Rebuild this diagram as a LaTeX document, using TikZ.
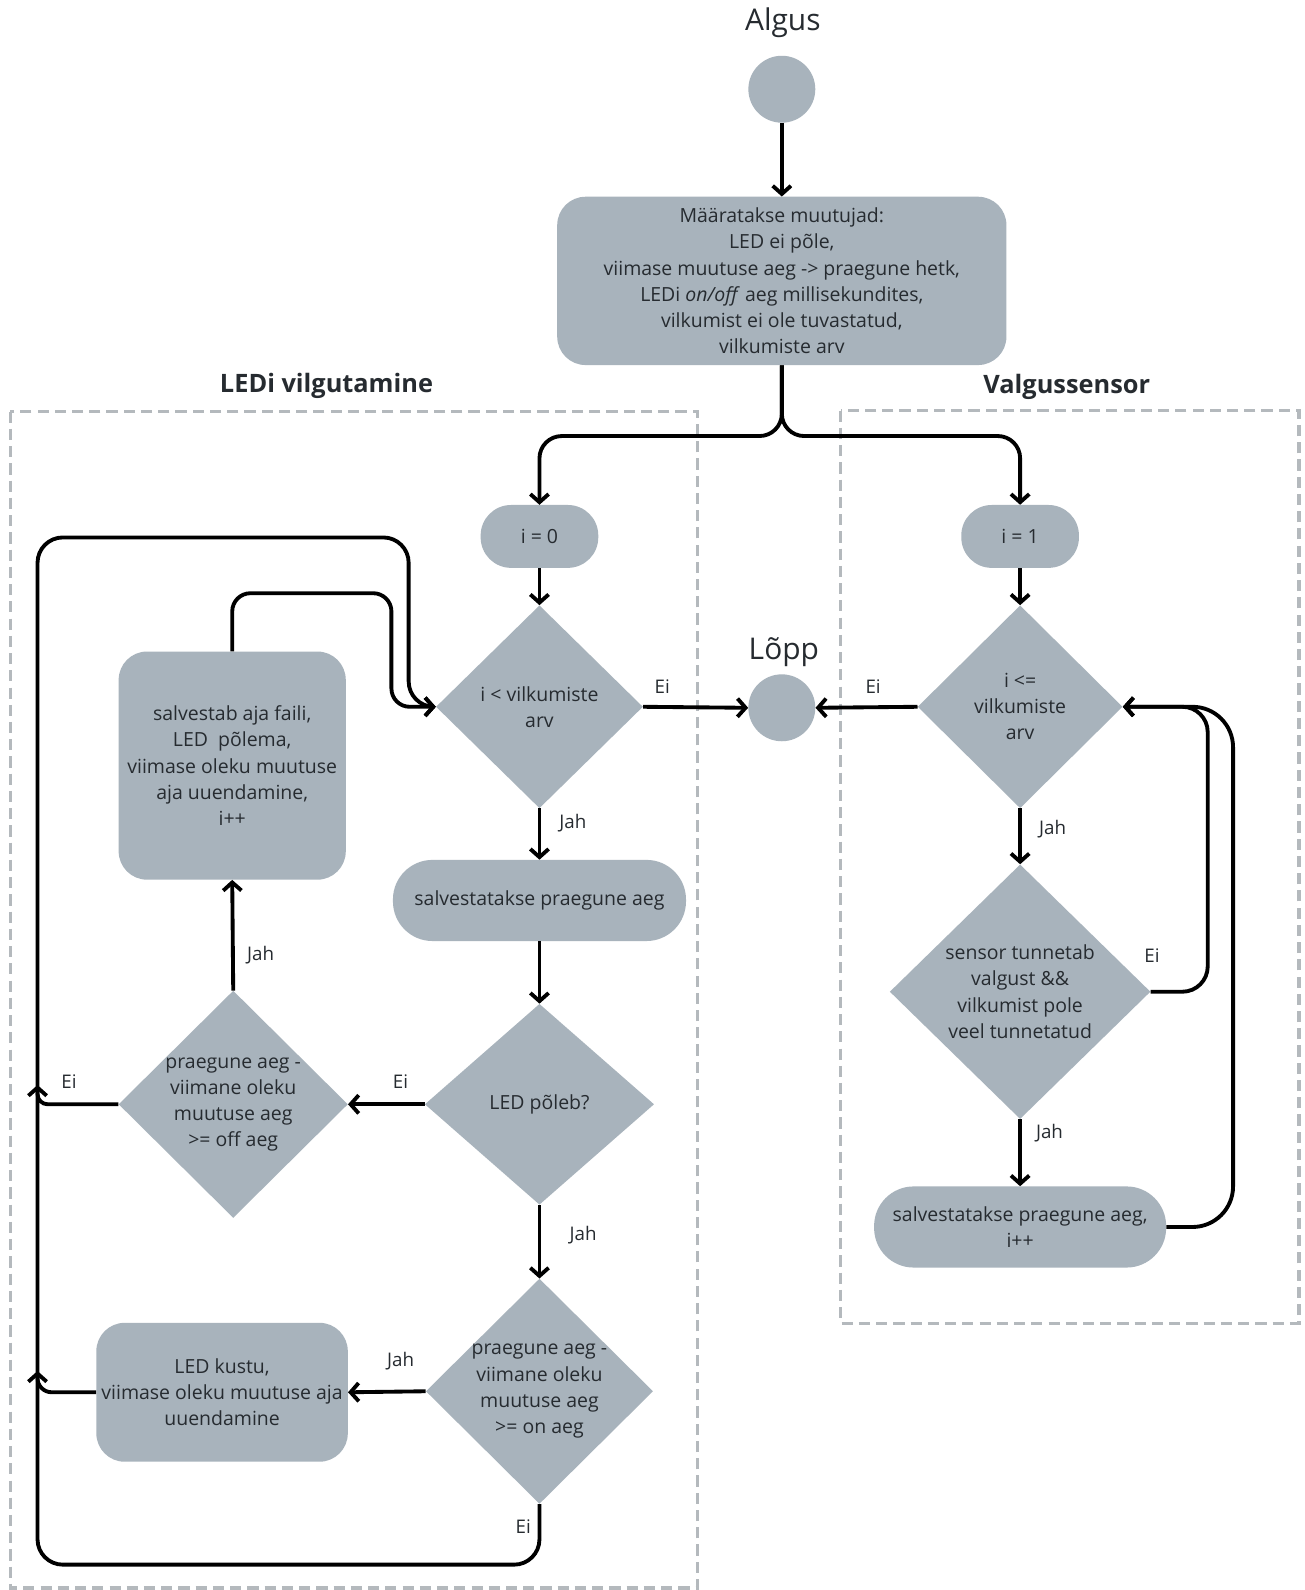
\documentclass[tikz,border=0pt]{standalone}
\usepackage{fontspec}
\setmainfont{Open Sans}
\usetikzlibrary{shapes.geometric,arrows.meta}
\definecolor{boxfill}{HTML}{A8B3BC}
\definecolor{txt}{HTML}{262B30}
\definecolor{dashc}{HTML}{B4B9BD}
\begin{document}
\begin{tikzpicture}[x=1pt,y=-1pt,
  every node/.style={text=txt, font=\fontsize{19.2}{25.8}\selectfont},
  proc/.style={fill=boxfill, rounded corners=28pt, align=center, inner sep=0pt},
  dec/.style={diamond, fill=boxfill, inner sep=0pt},
  circ/.style={circle, fill=boxfill, minimum size=66pt, inner sep=0pt},
  conn/.style={line width=3.8pt, -{Straight Barb[length=8pt,width=18pt]}, rounded corners=22pt},
  lab/.style={font=\fontsize{18.5}{22}\selectfont},
  ttl/.style={font=\fontsize{29.5}{34}\selectfont},
  grp/.style={draw=dashc, line width=3pt, dash pattern=on 11pt off 6pt},
  grpttl/.style={font=\bfseries\fontsize{25}{30}\selectfont}]
\useasboundingbox (0,0) rectangle (1286,1568);
\fill[white] (0,0) rectangle (1286,1568);

% groups
\draw[grp] (10,406) rectangle (688,1566);
\draw[grp] (829,405) rectangle (1281,1305);
\node[grpttl] (tleft) at (322,381) {LEDi vilgutamine};
\node[grpttl] (tright) at (1052,382) {Valgussensor};

% nodes
\node[ttl] (algus) at (772,22) {Algus};
\node[circ] (start) at (771,88) {};
\node[proc, minimum width=443pt, minimum height=166pt] (init) at (771,277)
  {Määratakse muutujad:\\LED ei põle,\\viimase muutuse aeg -> praegune hetk,\\LEDi \emph{on/off} aeg millisekundites,\\vilkumist ei ole tuvastatud,\\vilkumiste arv};
\node[proc, rounded corners=30pt, minimum width=116pt, minimum height=62pt] (i0) at (532,529) {i = 0};
\node[proc, rounded corners=30pt, minimum width=116pt, minimum height=62pt] (i1) at (1006,529) {i = 1};
\node[dec, minimum width=204pt, minimum height=200pt,
  label={[align=center]center:i < vilkumiste\\arv}] (d1) at (532,697) {};
\node[ttl] (lopptxt) at (773,643) {Lõpp};
\node[circ] (lopp) at (771,698) {};
\node[dec, minimum width=202pt, minimum height=200pt,
  label={[align=center]center:i <=\\vilkumiste\\arv}] (d2) at (1006,697) {};
\node[proc, rounded corners=39pt, minimum width=289pt, minimum height=80pt] (s1) at (532,888) {salvestatakse praegune aeg};
\node[dec, minimum width=226pt, minimum height=198pt,
  label={[align=center]center:LED põleb?}] (dled) at (532,1089) {};
\node[dec, minimum width=226pt, minimum height=224pt,
  label={[align=center]center:praegune aeg -\\viimane oleku\\muutuse aeg\\>= off aeg}] (doff) at (230,1089) {};
\node[proc, minimum width=224pt, minimum height=225pt] (sab) at (229,755)
  {salvestab aja faili,\\LED\ \ põlema,\\viimase oleku muutuse\\aja uuendamine,\\i++};
\node[dec, minimum width=224pt, minimum height=222pt,
  label={[align=center]center:praegune aeg -\\viimane oleku\\muutuse aeg\\>= on aeg}] (don) at (532,1372) {};
\node[proc, minimum width=248pt, minimum height=137pt] (kustu) at (219,1373)
  {LED kustu,\\viimase oleku muutuse aja\\uuendamine};
\node[dec, minimum width=257pt, minimum height=251pt,
  label={[align=center]center:sensor tunnetab\\valgust \&\&\\vilkumist pole\\veel tunnetatud}] (d3) at (1006,978) {};
\node[proc, rounded corners=39pt, minimum width=288pt, minimum height=80pt] (s2) at (1006,1210)
  {salvestatakse praegune aeg,\\i++};

% helper coordinates
\coordinate (jA) at (37,1070);
\coordinate (jB) at (37,1352);

% connectors
\draw[conn] (start) -- (init);
\draw[conn] (init.south) |- (600,430) -| (i0.north);
\draw[conn] (init.south) |- (940,430) -| (i1.north);
\draw[conn] (i0) -- (d1);
\draw[conn] (i1) -- (d2);
\draw[conn] (d1.east) -- (lopp.west);
\draw[conn] (d2.west) -- (lopp.east);
\draw[conn] (d1.south) -- (s1.north);
\draw[conn] (s1) -- (dled);
\draw[conn] (dled.west) -- (doff.east);
\draw[conn] (doff.north) -- (sab.south);
\draw[conn, rounded corners=18pt] (sab.north) -- (229,585) -- (386,585) -- (386,697) -- (d1.west);
\draw[conn, rounded corners=10pt] (doff.west) -- (37,1089) -- (jA);
\draw[conn] (dled.south) -- (don.north);
\draw[conn] (don.west) -- (kustu.east);
\draw[conn, rounded corners=14pt] (kustu.west) -- (37,1373) -- (jB);
\draw[conn, rounded corners=25pt] (don.south) -- (532,1543) -- (37,1543) -- (37,530) -- (403,530) -- (403,697) -- (d1.west);
\draw[conn, rounded corners=22pt] (d2.south) -- (d3.north);
\draw[conn] (d3.south) -- (s2.north);
\draw[conn, rounded corners=25pt] (d3.east) -- (1191,978) -- (1191,697) -- (d2.east);
\draw[conn, rounded corners=40pt] (s2.east) -- (1216,1210) -- (1216,697) -- (d2.east);

% connector labels
\node[lab] (l1) at (653,677) {Ei};
\node[lab] (l2) at (861,677) {Ei};
\node[lab] (l3) at (565,812) {Jah};
\node[lab] (l4) at (395,1067) {Ei};
\node[lab] (l5) at (257,942) {Jah};
\node[lab] (l6) at (68,1067) {Ei};
\node[lab] (l7) at (575,1218) {Jah};
\node[lab] (l8) at (395,1342) {Jah};
\node[lab] (l9) at (516,1505) {Ei};
\node[lab] (l10) at (1038,818) {Jah};
\node[lab] (l11) at (1136,942) {Ei};
\node[lab] (l12) at (1035,1117) {Jah};
\end{tikzpicture}
\end{document}
